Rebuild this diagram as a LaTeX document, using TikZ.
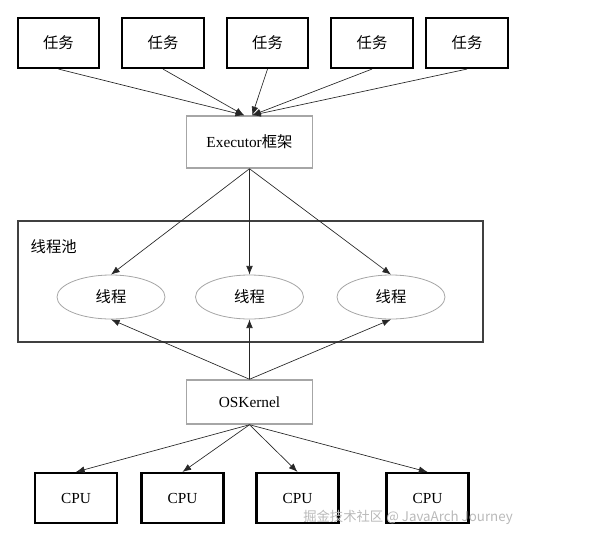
\documentclass[tikz,border=0pt]{standalone}
\usepackage{fontspec}
\setmainfont{Liberation Serif}
\newfontfamily\cjk{Noto Sans CJK SC}
\usetikzlibrary{arrows.meta,shapes.geometric}

\begin{document}
\begin{tikzpicture}[>={Latex[length=6.5pt,width=5pt]},x=0.75pt,y=-0.75pt,
  txt/.style={font=\fontsize{11.5}{13}\selectfont},
  task/.style={txt,draw=black,line width=1.6pt,minimum width=61pt,minimum height=37.5pt},
  core/.style={txt,draw=black,line width=1.6pt,minimum width=61.5pt,minimum height=37.5pt},
  layer/.style={txt,draw=gray!70,line width=1.1pt,minimum width=94.5pt},
  thread/.style={txt,ellipse,draw=gray!70,line width=0.6pt,minimum width=81pt,minimum height=33pt},
  pool/.style={draw=black!75,line width=1.6pt,minimum width=349pt,minimum height=91pt},
  link/.style={->,black!85,line width=0.5pt}]
  \useasboundingbox (0,0) rectangle (593,540);
  % tasks on top
  \foreach \i/\x in {1/58.5,2/163,3/267.5,4/372,5/467}
    \node[task] (t\i) at (\x,43) {\cjk 任务};
  \node[layer,minimum height=39pt] (exec) at (249.5,142) {Executor{\cjk 框架}};
  % thread pool
  \node[pool] (pool) at (250.5,281.5) {};
  \node[txt,anchor=west] (plabel) at (26,247) {\cjk 线程池};
  \foreach \i/\x in {1/111,2/249.5,3/391}
    \node[thread] (th\i) at (\x,297) {\cjk 线程};
  \node[layer,minimum height=33pt] (os) at (249.5,402) {OSKernel};
  % cpus
  \foreach \i/\x in {1/76,2/182.5,3/297.5,4/427.5}
    \node[core] (c\i) at (\x,498) {CPU};
  % connectors
  \foreach \i in {1,2}
    \draw[link] (t\i.south) -- ([xshift=-4pt]exec.north);
  \foreach \i in {3,4,5}
    \draw[link] (t\i.south) -- ([xshift=2pt]exec.north);
  \foreach \i in {1,2,3}{
    \draw[link] (exec.south) -- (th\i.north);
    \draw[link] (os.north) -- (th\i.south);
  }
  \foreach \i in {1,2,3,4}
    \draw[link] (os.south) -- (c\i.north);
  \node[font=\fontsize{10}{12}\selectfont,text=gray!55] (mark) at (408,517) {\cjk 掘金技术社区 @ JavaArch Journey};
\end{tikzpicture}
\end{document}
